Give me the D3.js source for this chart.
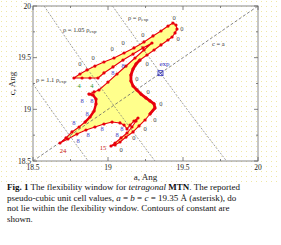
<!DOCTYPE html>
<html><head><meta charset="utf-8">
<script src="https://cdn.jsdelivr.net/npm/d3@7"></script>
<style>
html,body{margin:0;padding:0;background:#fff;}
svg{display:block;}
</style></head><body>
<svg id="chart" width="281" height="245"></svg>
<script>
// ---------------- data ----------------
const xDomain = [18.5, 20];
const yDomain = [18.5, 20];
const majorTicks = [18.5, 19, 19.5, 20];
const minorTicks = [18.75, 19.25, 19.75];
const tickLabels = ["18.5", "19", "19.5", "20"];
const xTitle = "a, Ang";
const yTitle = "c, Ang";

// flexibility window boundary, in (a, c) Angstrom, traced around the region
const upperEdge = [[18.773,19.303],[18.813,19.342],[18.860,19.381],[18.913,19.419],[18.973,19.458],[19.040,19.497],[19.107,19.545],[19.173,19.594],[19.240,19.652],[19.300,19.710],[19.353,19.758],[19.400,19.806],[19.433,19.835]];
const armTip = [[19.453,19.816],[19.460,19.777],[19.447,19.739],[19.427,19.700],[19.400,19.671],[19.353,19.623],[19.307,19.574],[19.260,19.526],[19.213,19.477]];
const rightBoundary = [[19.187,19.439],[19.167,19.390],[19.153,19.332],[19.153,19.274],[19.167,19.226],[19.193,19.187],[19.220,19.148],[19.253,19.110],[19.280,19.081],[19.307,19.052],[19.313,19.013]];
const lowerSpike = [[19.280,18.955],[19.247,18.897],[19.207,18.839],[19.167,18.781],[19.120,18.732],[19.080,18.684],[19.047,18.655],[19.020,18.645],[19.047,18.674],[19.087,18.723],[19.127,18.771],[19.160,18.829],[19.187,18.887],[19.200,18.916],[19.173,18.887],[19.147,18.848],[19.127,18.810],[19.107,18.848],[19.080,18.868]];
const bottomEdge = [[19.027,18.877],[18.973,18.858],[18.913,18.829],[18.853,18.800],[18.793,18.761],[18.733,18.713],[18.680,18.674]];
const hook = [[18.720,18.723],[18.760,18.781],[18.807,18.829],[18.847,18.877],[18.880,18.926],[18.907,18.984],[18.920,19.052],[18.920,19.100],[18.900,19.139],[18.873,19.148],[18.907,19.168],[18.940,19.187]];
const slitLower = [[19.000,19.264],[19.060,19.342],[19.120,19.419],[19.180,19.497],[19.240,19.574],[19.293,19.642]];
const slitUpper = [[19.233,19.594],[19.167,19.535],[19.100,19.477],[19.033,19.410],[18.973,19.352],[18.933,19.303]];
const armBottom = [[18.880,19.303],[18.827,19.303]];

// number labels around the window (text, a, c)
const zeroLabels = [[18.813,19.439],[18.900,19.497],[19.027,19.584],[19.100,19.642],[19.233,19.729],[19.440,19.884],[19.493,19.787],[19.467,19.690],[19.260,19.448],[19.193,19.294],[19.267,19.177],[19.353,19.052],[19.313,18.906],[19.247,18.819],[19.173,18.723],[19.087,18.616]];
const fourLabels = [[18.807,19.226],[18.893,19.226]];
const eightLabels = [[19.033,19.352],[19.100,19.429],[18.827,19.090],[18.893,19.090],[18.860,18.964],[18.773,18.868],[18.960,18.810],[18.867,18.752],[18.800,18.694],[19.060,18.761],[19.093,18.819]];
const redLabels = [["24",18.700,18.606],["15",18.967,18.626]];

// reference lines
const lineCeqA = [[18.5,18.5],[20,20]];
const rhoExp = [[19.03,20.0],[19.2,19.654],[19.35,19.35],[19.55,18.956],[19.79,18.5]];
const rho105 = [[18.574,20.0],[18.7,19.732],[18.8,19.523],[18.9,19.316],[19.0,19.114],[19.15,18.816],[19.313,18.5]];
const rho110 = [[18.5,19.245],[18.6,19.038],[18.7,18.835],[18.868,18.5]];
const expPoint = [19.35, 19.35];
const lineLabels = [
  {main:"ρ = 1.05 ρ", sub:"exp", a:18.70, c:19.777},
  {main:"ρ = ρ", sub:"exp", a:19.133, c:19.894},
  {main:"ρ = 1.1 ρ", sub:"exp", a:18.52, c:19.293},
  {main:"c = a", sub:"", a:19.693, c:19.642}
];

const captionLines = [
  [["Fig. 1","b"],[" The flexibility window for ",""],["tetragonal","i"],[" ",""],["MTN","b"],[". The reported",""]],
  [["pseudo-cubic unit cell values, ",""],["a","i"],[" = ",""],["b","i"],[" = ",""],["c","i"],[" = 19.35 Å (asterisk), do",""]],
  [["not lie within the flexibility window. Contours of constant are",""]],
  [["shown.",""]]
];

// ---------------- drawing ----------------
const svg = d3.select("#chart");
const L = 33, R = 258, T = 6, B = 161;
const x = d3.scaleLinear().domain(xDomain).range([L, R]);
const y = d3.scaleLinear().domain(yDomain).range([B, T]);
const serif = "'Liberation Serif','Times New Roman',serif";

// faint halftone background
const defs = svg.append("defs");
const pat = defs.append("pattern").attr("id","dots").attr("width",5).attr("height",5).attr("patternUnits","userSpaceOnUse");
pat.append("rect").attr("x",1).attr("y",1).attr("width",1).attr("height",1).attr("fill","#efe7a6");
svg.append("rect").attr("x",0).attr("y",0).attr("width",281).attr("height",182).attr("fill","url(#dots)");

const clip = defs.append("clipPath").attr("id","plotclip");
clip.append("rect").attr("x",L).attr("y",T).attr("width",R-L).attr("height",B-T);

const line = d3.line().x(d=>x(d[0])).y(d=>y(d[1]));

const polygon = [].concat(upperEdge, armTip, rightBoundary, lowerSpike, bottomEdge, hook, slitLower, slitUpper, armBottom);

const g = svg.append("g").attr("clip-path","url(#plotclip)");
g.append("path").attr("d", line(polygon)+"Z").attr("fill","#ffff8c").attr("stroke","none");

// reference lines
g.append("path").attr("d", line(lineCeqA)).attr("fill","none").attr("stroke","#666").attr("stroke-width",0.8).attr("stroke-dasharray","3,2");
[rhoExp, rho105, rho110].forEach(pts=>{
  g.append("path").attr("d", d3.line().x(d=>x(d[0])).y(d=>y(d[1])).curve(d3.curveMonotoneX)(pts))
    .attr("fill","none").attr("stroke","#777").attr("stroke-width",0.7).attr("stroke-dasharray","2,1.5");
});

// boundary
g.append("path").attr("d", line(polygon)+"Z").attr("fill","none").attr("stroke","#e8000b").attr("stroke-width",1.1).attr("stroke-linejoin","round");
const thick1 = [armTip[armTip.length-1]].concat(rightBoundary, [lowerSpike[0]]);
g.append("path").attr("d", line(thick1)).attr("fill","none").attr("stroke","#e8000b").attr("stroke-width",2.8).attr("stroke-linejoin","round").attr("stroke-linecap","round");
const thick2 = hook.slice(3, 10);
g.append("path").attr("d", line(thick2)).attr("fill","none").attr("stroke","#e8000b").attr("stroke-width",2.4).attr("stroke-linejoin","round").attr("stroke-linecap","round");
g.selectAll("circle.v").data(polygon).join("circle").attr("class","v")
  .attr("cx",d=>x(d[0])).attr("cy",d=>y(d[1])).attr("r",1.6).attr("fill","#e8000b");

// exp marker
const ex = x(expPoint[0]), ey = y(expPoint[1]);
svg.append("rect").attr("x",ex-2.5).attr("y",ey-2.5).attr("width",5).attr("height",5).attr("fill","none").attr("stroke","#2a2ab8").attr("stroke-width",0.8);
svg.append("path").attr("d",`M${ex-2},${ey-2}L${ex+2},${ey+2}M${ex-2},${ey+2}L${ex+2},${ey-2}`).attr("stroke","#2a2ab8").attr("stroke-width",0.8);
svg.append("text").attr("x",ex+4).attr("y",ey-7).attr("text-anchor","middle").attr("font-family",serif).attr("font-size",7).attr("fill","#2a2ab8").text("exp");

// number labels
function labels(data, txt, color){
  svg.append("g").selectAll("text").data(data).join("text")
    .attr("x",d=>x(d[0])).attr("y",d=>y(d[1])).attr("text-anchor","middle").attr("dominant-baseline","central")
    .attr("font-family",serif).attr("font-size",6.5).attr("fill",color).text(txt);
}
labels(zeroLabels, "0", "#444");
labels(fourLabels, "4", "#2f9a2f");
labels(eightLabels, "8", "#3b3bc4");
svg.append("g").selectAll("text").data(redLabels).join("text")
  .attr("x",d=>x(d[1])).attr("y",d=>y(d[2])).attr("text-anchor","middle").attr("dominant-baseline","central")
  .attr("font-family",serif).attr("font-size",6.5).attr("fill","#c81414").text(d=>d[0]);

// line labels
lineLabels.forEach(l=>{
  const t = svg.append("text").attr("x",x(l.a)).attr("y",y(l.c)).attr("dominant-baseline","central")
    .attr("font-family",serif).attr("font-size",6.5).attr("fill","#333");
  t.append("tspan").text(l.main);
  if (l.sub) t.append("tspan").attr("font-size",4.8).attr("dy",1.8).text(l.sub);
});

// frame and ticks
svg.append("rect").attr("x",L).attr("y",T).attr("width",R-L).attr("height",B-T).attr("fill","none").attr("stroke","#8a8a8a").attr("stroke-width",1);
const tk = svg.append("g").attr("stroke","#666").attr("stroke-width",0.8);
majorTicks.forEach(v=>{
  tk.append("line").attr("x1",x(v)).attr("x2",x(v)).attr("y1",B).attr("y2",B-4);
  tk.append("line").attr("x1",x(v)).attr("x2",x(v)).attr("y1",T).attr("y2",T+4);
  tk.append("line").attr("y1",y(v)).attr("y2",y(v)).attr("x1",L).attr("x2",L+4);
  tk.append("line").attr("y1",y(v)).attr("y2",y(v)).attr("x1",R).attr("x2",R-4);
});
minorTicks.forEach(v=>{
  tk.append("line").attr("x1",x(v)).attr("x2",x(v)).attr("y1",B).attr("y2",B-2);
  tk.append("line").attr("x1",x(v)).attr("x2",x(v)).attr("y1",T).attr("y2",T+2);
  tk.append("line").attr("y1",y(v)).attr("y2",y(v)).attr("x1",L).attr("x2",L+2);
  tk.append("line").attr("y1",y(v)).attr("y2",y(v)).attr("x1",R).attr("x2",R-2);
});
svg.append("g").selectAll("text").data(majorTicks).join("text")
  .attr("x",d=>x(d)).attr("y",B+9).attr("text-anchor","middle").attr("font-family",serif).attr("font-size",7.5).attr("fill","#222")
  .text((d,i)=>tickLabels[i]);
svg.append("g").selectAll("text").data(majorTicks).join("text")
  .attr("x",L-2).attr("y",d=>y(d)).attr("text-anchor","end").attr("dominant-baseline","central").attr("font-family",serif).attr("font-size",7.5).attr("fill","#222")
  .text((d,i)=>tickLabels[i]);
svg.append("text").attr("x",(L+R)/2).attr("y",180).attr("text-anchor","middle").attr("font-family",serif).attr("font-size",9).attr("fill","#222").text(xTitle);
svg.append("text").attr("transform",`translate(15,${(T+B)/2}) rotate(-90)`).attr("text-anchor","middle").attr("font-family",serif).attr("font-size",9).attr("fill","#222").text(yTitle);

// caption
captionLines.forEach((ln,i)=>{
  const t = svg.append("text").attr("x",7).attr("y",190+i*10.6).attr("font-family",serif).attr("font-size",9).attr("fill","#111");
  ln.forEach(([s,st])=>{
    const sp = t.append("tspan").text(s);
    if (st==="b") sp.attr("font-weight","bold");
    if (st==="i") sp.attr("font-style","italic");
  });
});
</script>
</body></html>
